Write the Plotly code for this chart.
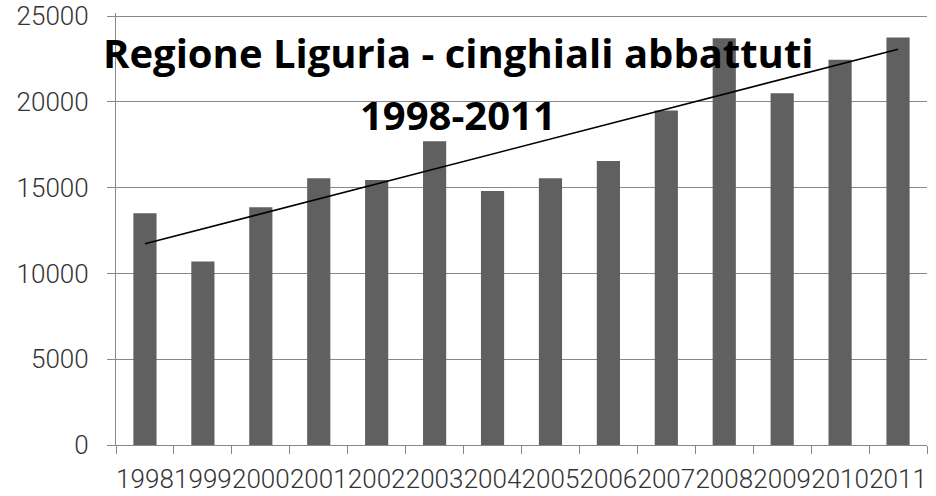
import numpy as np
import plotly.graph_objects as go

years = ["1998", "1999", "2000", "2001", "2002", "2003", "2004",
         "2005", "2006", "2007", "2008", "2009", "2010", "2011"]
abbattuti = [13500, 10700, 13850, 15550, 15450, 17700, 14800,
             15550, 16550, 19500, 23700, 20500, 22450, 23750]
title_line1 = "Regione Liguria - cinghiali abbattuti"
title_line2 = "1998-2011"
y_ticks = [0, 5000, 10000, 15000, 20000, 25000]

# linear trendline (as in the spreadsheet's trendline)
idx = np.arange(len(years))
slope, intercept = np.polyfit(idx, abbattuti, 1)
trend = slope * idx + intercept

W, H = 936, 496
# plot area in window pixels: x 116..927, y 13..445 (25000 at y=16)
ml, mt, mr, mb = 116, 13, 9, 51
y_top = 25000 * (445 - 13) / (445 - 16)

fig = go.Figure()
fig.add_trace(go.Bar(x=years, y=abbattuti, marker=dict(color="#606060", line=dict(width=0)),
                     showlegend=False))
fig.add_trace(go.Scatter(x=years, y=trend, mode="lines",
                         line=dict(color="#000000", width=1.6), showlegend=False))

tick_font = dict(family="Roboto", size=26, color="#333333", weight=300)

fig.update_layout(
    width=W, height=H,
    margin=dict(l=ml, r=mr, t=mt, b=mb, autoexpand=False),
    paper_bgcolor="white", plot_bgcolor="white",
    bargap=0.6,
    xaxis=dict(type="category", showgrid=False, showline=True, linecolor="#888888", linewidth=1.3,
               ticks="outside", tickson="boundaries", ticklen=8, tickcolor="#888888", tickwidth=1.3,
               tickfont=tick_font, ticklabelstandoff=11, tickangle=0, automargin=False,
               ticklabeloverflow="allow"),
    yaxis=dict(range=[0, y_top], tickvals=y_ticks, ticktext=[str(v) for v in y_ticks],
               showgrid=True, gridcolor="#888888", gridwidth=1.3,
               showline=True, linecolor="#888888", linewidth=1.3, zeroline=False,
               ticks="outside", ticklen=8, tickcolor="#888888", tickwidth=1.3,
               tickfont=tick_font, ticklabelstandoff=13, automargin=False,
               ticklabeloverflow="allow"),
)

title_font = dict(family="Open Sans", size=40, color="#000000", weight=700)
ph = H - mt - mb
pw = W - ml - mr
def px_to_paper_x(px):
    return (px - ml) / pw
def px_to_paper_y(py):
    return (H - mb - py) / ph

fig.add_annotation(text=title_line1, xref="paper", yref="paper",
                   x=px_to_paper_x(458), y=px_to_paper_y(53), xanchor="center", yanchor="middle",
                   showarrow=False, font=title_font)
fig.add_annotation(text=title_line2, xref="paper", yref="paper",
                   x=px_to_paper_x(458), y=px_to_paper_y(114), xanchor="center", yanchor="middle",
                   showarrow=False, font=title_font)

fig.write_html("out.html", config={"displayModeBar": False},
               post_script="document.body.style.margin='0';")
